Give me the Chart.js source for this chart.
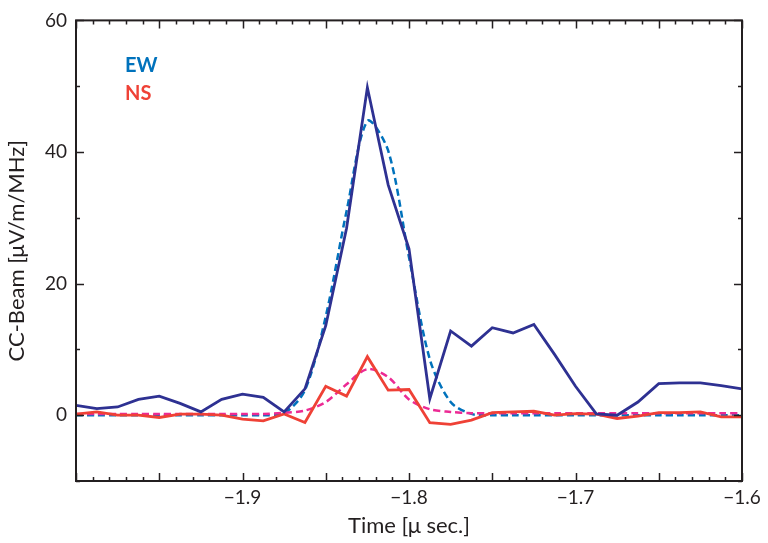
<!DOCTYPE html>
<html>
<head>
<meta charset="utf-8">
<script src="https://cdn.jsdelivr.net/npm/chart.js@4/dist/chart.umd.min.js"></script>
<style>
  html, body { margin: 0; padding: 0; background: #fff; }
  #wrap { width: 768px; height: 543px; }
</style>
</head>
<body>
<div id="wrap"><canvas id="beamChart"></canvas></div>
<script>
// Time samples [μ sec.], 12.5 ns spacing
const times = [-2.0, -1.9875, -1.975, -1.9625, -1.95, -1.9375, -1.925, -1.9125,
  -1.9, -1.8875, -1.875, -1.8625, -1.85, -1.8375, -1.825, -1.8125,
  -1.8, -1.7875, -1.775, -1.7625, -1.75, -1.7375, -1.725, -1.7125,
  -1.7, -1.6875, -1.675, -1.6625, -1.65, -1.6375, -1.625, -1.6125, -1.6]

// CC-Beam, measured
const ewBeam = [1.5, 1.0, 1.25, 2.4, 2.9, 1.8, 0.5, 2.4,
  3.2, 2.7, 0.5, 4.0, 13.6, 28.4, 49.8, 35.0,
  25.3, 2.5, 12.8, 10.5, 13.3, 12.5, 13.8, 9.2,
  4.4, 0.2, 0.0, 2.0, 4.8, 4.9, 4.9, 4.5, 4.0]
const nsBeam = [0.15, 0.5, 0.0, 0.0, -0.35, 0.15, 0.15, 0.0,
  -0.6, -0.85, 0.2, -1.1, 4.4, 2.9, 8.9, 3.8,
  3.9, -1.15, -1.4, -0.75, 0.4, 0.5, 0.6, 0.0,
  0.25, 0.15, -0.5, -0.15, 0.4, 0.4, 0.5, -0.25, -0.25]

// fitted pulse shapes (dashed)
const ewFit = [0, 0, 0, 0, 0, 0, 0, 0,
  0, 0, 0.3, 3.8, 15.0, 31.0, 44.7, 40.2,
  24.0, 8.5, 2.0, 0.2, 0, 0, 0, 0,
  0, 0, 0, 0, 0, 0, 0, 0, 0]
const nsFit = [0.2, 0.2, 0.2, 0.2, 0.2, 0.2, 0.2, 0.2,
  0.2, 0.2, 0.35, 0.7, 2.0, 4.7, 7.0, 5.8,
  2.4, 0.9, 0.5, 0.3, 0.3, 0.3, 0.3, 0.3,
  0.3, 0.3, 0.3, 0.3, 0.3, 0.3, 0.3, 0.3, 0.3]

// tick labels
const xTicks = [-1.9, -1.8, -1.7, -1.6]
const yTicks = [0, 20, 40, 60]

const pts = (ys) => ys.map((y, i) => ({ x: times[i], y: y }))

const ink = "#231f20"
const font = "Lato, 'Open Sans', sans-serif"

// frame + inward ticks on all four sides, and the EW / NS labels
const framePlugin = {
  id: "frame",
  afterDraw(chart) {
    const { ctx, chartArea: a, scales } = chart
    const xs = scales.x, ys = scales.y
    ctx.save()
    ctx.strokeStyle = ink
    ctx.lineWidth = 1.5
    ctx.beginPath()
    // x ticks every 0.01, long every 0.05
    for (let i = 0; i <= 40; i++) {
      const v = -2.0 + i * 0.01
      const px = Math.round(xs.getPixelForValue(v)) + 0.5
      const len = (i % 5 === 0) ? 8 : 4
      ctx.moveTo(px, a.bottom); ctx.lineTo(px, a.bottom - len)
      ctx.moveTo(px, a.top); ctx.lineTo(px, a.top + len)
    }
    // y ticks every 10, long every 20
    for (let v = -10; v <= 60; v += 10) {
      const py = Math.round(ys.getPixelForValue(v)) + 0.5
      const len = (v % 20 === 0) ? 8 : 4
      ctx.moveTo(a.left, py); ctx.lineTo(a.left + len, py)
      ctx.moveTo(a.right, py); ctx.lineTo(a.right - len, py)
    }
    ctx.stroke()
    ctx.lineWidth = 2
    ctx.strokeRect(a.left, a.top, a.right - a.left, a.bottom - a.top)

    ctx.font = "bold 20px " + font
    ctx.textBaseline = "alphabetic"
    ctx.fillStyle = "#0072bc"
    ctx.fillText("EW", 125, 72)
    ctx.fillStyle = "#ef4136"
    ctx.fillText("NS", 125, 100)
    ctx.restore()
  }
}

const beamChart = new Chart(document.querySelector("#beamChart").getContext("2d"), {
  type: "line",
  data: {
    datasets: [
      {
        label: "EW fit",
        data: pts(ewFit),
        borderColor: "#0072bc",
        borderWidth: 2.5,
        borderDash: [7, 4],
        pointRadius: 0,
        tension: 0.3,
        order: 4
      },
      {
        label: "NS fit",
        data: pts(nsFit),
        borderColor: "#ec2a94",
        borderWidth: 2.5,
        borderDash: [7, 4],
        pointRadius: 0,
        tension: 0.3,
        order: 3
      },
      {
        label: "NS",
        data: pts(nsBeam),
        borderColor: "#ef4136",
        borderWidth: 2.8,
        pointRadius: 0,
        tension: 0,
        order: 2
      },
      {
        label: "EW",
        data: pts(ewBeam),
        borderColor: "#2e3192",
        borderWidth: 2.8,
        pointRadius: 0,
        tension: 0,
        order: 1
      }
    ]
  },
  options: {
    responsive: true,
    maintainAspectRatio: false,
    animation: false,
    layout: { padding: { top: 17, right: 26, left: 0, bottom: 0 } },
    plugins: {
      legend: { display: false },
      tooltip: { enabled: false }
    },
    scales: {
      x: {
        type: "linear",
        min: -2.0,
        max: -1.6,
        afterBuildTicks: (scale) => { scale.ticks = xTicks.map(v => ({ value: v })) },
        afterFit: (scale) => { scale.height = 62 },
        grid: { display: false, drawTicks: false },
        border: { display: false },
        ticks: {
          color: ink,
          padding: 5,
          maxRotation: 0,
          font: { family: font, size: 19 },
          callback: (v) => "\u2212" + Math.abs(v).toFixed(1)
        },
        title: {
          display: true,
          text: "Time [\u03bc sec.]",
          color: ink,
          font: { family: font, size: 22 },
          padding: { top: 0, bottom: 4 }
        }
      },
      y: {
        min: -10,
        max: 60,
        afterBuildTicks: (scale) => { scale.ticks = yTicks.map(v => ({ value: v })) },
        afterFit: (scale) => { scale.width = 76 },
        grid: { display: false, drawTicks: false },
        border: { display: false },
        ticks: {
          color: ink,
          padding: 9,
          font: { family: font, size: 19 }
        },
        title: {
          display: true,
          text: "CC-Beam [\u03bcV/m/MHz]",
          color: ink,
          font: { family: font, size: 22 },
          padding: { top: 4, bottom: 0 }
        }
      }
    }
  },
  plugins: [framePlugin]
})
</script>
</body>
</html>
